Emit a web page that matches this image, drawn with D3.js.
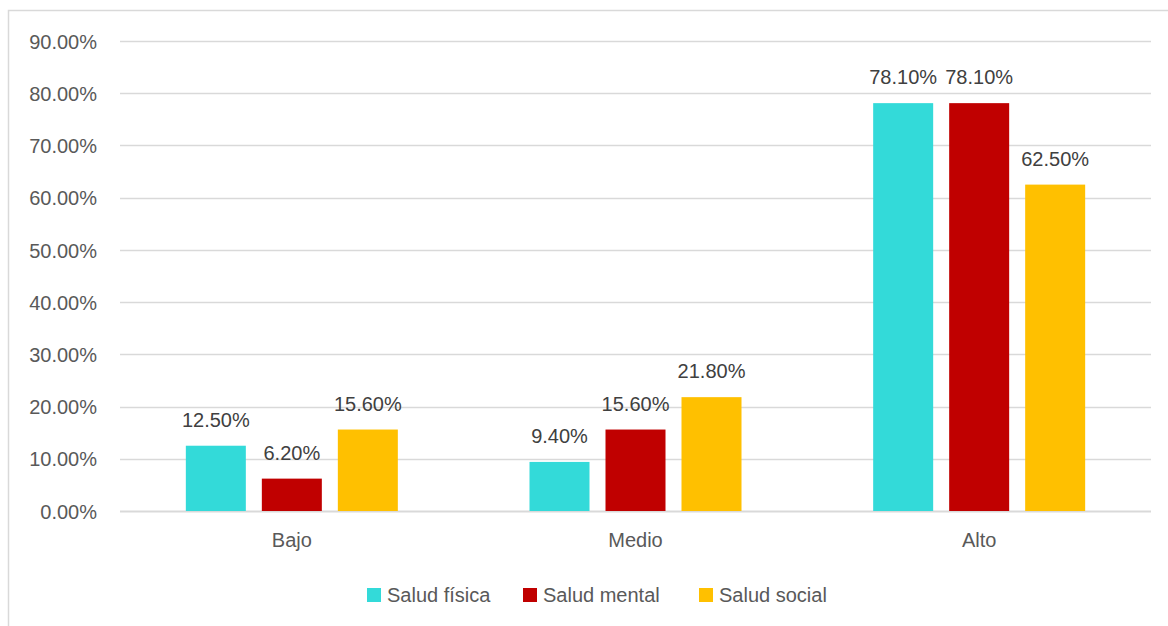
<!DOCTYPE html>
<html>
<head>
<meta charset="utf-8">
<script src="https://cdn.jsdelivr.net/npm/d3@7"></script>
<style>
  body { margin: 0; background: #fff; }
  text { font-family: "Liberation Sans", Arial, sans-serif; fill: #595959; }
</style>
</head>
<body>
<div id="chart-area"></div>
<script>
// datos
var categories = ["Bajo", "Medio", "Alto"];
var seriesNames = ["Salud física", "Salud mental", "Salud social"];
var fisica = [0.125, 0.094, 0.781];
var mental = [0.062, 0.156, 0.781];
var social = [0.156, 0.218, 0.625];
var yTicks = [0, 0.1, 0.2, 0.3, 0.4, 0.5, 0.6, 0.7, 0.8, 0.9];
var colors = ["#33dad9", "#c00000", "#ffc000"];

var W = 1168, H = 626;
var margin = { left: 120, right: 17, top: 41, bottom: 115 };
var width = W - margin.left - margin.right;
var height = H - margin.top - margin.bottom;

var svg = d3.select("#chart-area").append("svg")
    .attr("width", W)
    .attr("height", H);

// marco
svg.append("path")
    .attr("d", "M8.5," + H + " V10.5 H" + W)
    .attr("fill", "none")
    .attr("stroke", "#d9d9d9")
    .attr("stroke-width", 1.5);

var g = svg.append("g")
    .attr("transform", "translate(" + margin.left + "," + margin.top + ")");

var data = categories.map(function(c, i) {
    return { cat: c, values: [fisica[i], mental[i], social[i]] };
});

var x = d3.scaleBand()
    .domain(categories)
    .range([0, width]);

var barW = 60, gap = 16;
var y = d3.scaleLinear()
    .domain([0, 0.9])
    .range([height, 0]);

// gridlines
g.selectAll(".grid")
    .data(yTicks)
    .enter().append("line")
    .attr("x1", 0)
    .attr("x2", width)
    .attr("y1", function(d) { return Math.round(y(d)) + 0.5; })
    .attr("y2", function(d) { return Math.round(y(d)) + 0.5; })
    .attr("stroke", "#d9d9d9")
    .attr("stroke-width", function(d) { return d === 0 ? 2 : 1.5; });

// eje y
var leftAxis = d3.axisLeft(y).tickValues(yTicks)
    .tickFormat(function(d) { return (d * 100).toFixed(2) + "%"; })
    .tickSize(0).tickPadding(23);
g.append("g")
    .attr("class", "left axis")
    .call(leftAxis)
    .call(function(a) { a.select(".domain").remove(); })
    .selectAll("text")
    .attr("font-size", "20px")
    .attr("dy", "0.36em");

// eje x
var bottomAxis = d3.axisBottom(x).tickSize(0).tickPadding(22);
g.append("g")
    .attr("class", "bottom axis")
    .attr("transform", "translate(0," + height + ")")
    .call(bottomAxis)
    .call(function(a) { a.select(".domain").remove(); })
    .selectAll("text")
    .attr("font-size", "20px");

d3.selectAll(".axis text").style("fill", "#595959").style("font-family", "'Liberation Sans', Arial, sans-serif");

// barras
var groups = g.selectAll(".cat")
    .data(data)
    .enter().append("g")
    .attr("transform", function(d) {
        return "translate(" + (x(d.cat) + x.bandwidth() / 2 - (3 * barW + 2 * gap) / 2) + ",0)";
    });

groups.selectAll("rect")
    .data(function(d) { return d.values; })
    .enter().append("rect")
    .attr("x", function(d, i) { return i * (barW + gap); })
    .attr("y", function(d) { return y(d); })
    .attr("width", barW)
    .attr("height", function(d) { return height - y(d); })
    .attr("fill", function(d, i) { return colors[i]; });

groups.selectAll(".lbl")
    .data(function(d) { return d.values; })
    .enter().append("text")
    .attr("class", "lbl")
    .attr("x", function(d, i) { return i * (barW + gap) + barW / 2; })
    .attr("y", function(d) { return y(d) - 19; })
    .attr("text-anchor", "middle")
    .attr("font-size", "20px")
    .style("fill", "#404040")
    .text(function(d) { return (d * 100).toFixed(2) + "%"; });

// leyenda
var legendX = [367, 523, 699];
var legend = svg.selectAll(".legend")
    .data(seriesNames)
    .enter().append("g")
    .attr("transform", function(d, i) { return "translate(" + legendX[i] + ",588)"; });
legend.append("rect")
    .attr("width", 14)
    .attr("height", 14)
    .attr("fill", function(d, i) { return colors[i]; });
legend.append("text")
    .attr("x", 20)
    .attr("y", 14)
    .attr("font-size", "20px")
    .text(function(d) { return d; });
</script>
</body>
</html>
